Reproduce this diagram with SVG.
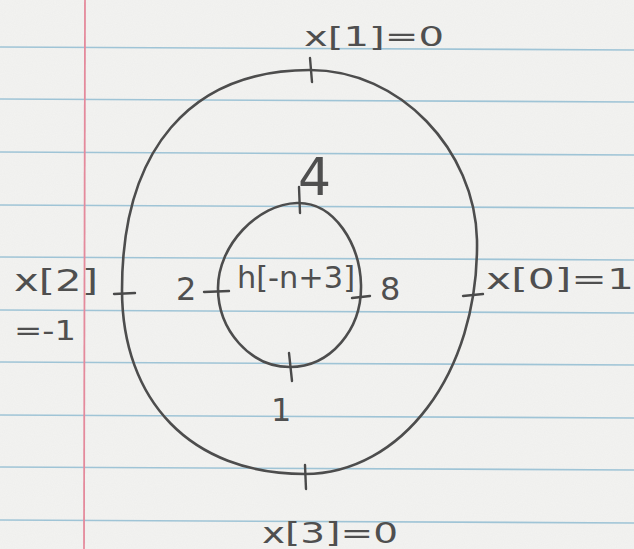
<svg xmlns="http://www.w3.org/2000/svg" width="634" height="549" viewBox="0 0 634 549">
  <defs>
    <style>
      .rule { stroke: #9fc4d6; stroke-width: 1.6; fill: none; }
      .margin { stroke: #e48a9c; stroke-width: 1.8; fill: none; }
      .pencil { stroke: #4d4d4d; stroke-width: 2.6; fill: none; stroke-linecap: round; stroke-linejoin: round; }
      .tick { stroke: #4a4a4a; stroke-width: 2.4; fill: none; stroke-linecap: round; }
      .hand { font-family: "DejaVu Sans", "Liberation Sans", sans-serif; fill: #4f4f4f; font-weight: normal; }
    </style>
    <filter id="grain" x="0" y="0" width="100%" height="100%">
      <feTurbulence type="fractalNoise" baseFrequency="0.9" numOctaves="2" seed="3" result="n"/>
      <feColorMatrix type="matrix" values="0 0 0 0 0.55  0 0 0 0 0.55  0 0 0 0 0.55  0 0 0 0.10 0"/>
    </filter>
  </defs>

  <g id="paper">
    <rect x="0" y="0" width="634" height="549" fill="#f3f3f1"/>
    <rect x="0" y="0" width="634" height="549" filter="url(#grain)"/>
    <line class="rule" x1="0" y1="47" x2="634" y2="50"/>
    <line class="rule" x1="0" y1="99" x2="634" y2="102"/>
    <line class="rule" x1="0" y1="152" x2="634" y2="155"/>
    <line class="rule" x1="0" y1="205" x2="634" y2="208"/>
    <line class="rule" x1="0" y1="257" x2="634" y2="260"/>
    <line class="rule" x1="0" y1="310" x2="634" y2="313"/>
    <line class="rule" x1="0" y1="362" x2="634" y2="365"/>
    <line class="rule" x1="0" y1="415" x2="634" y2="418"/>
    <line class="rule" x1="0" y1="467" x2="634" y2="470"/>
    <line class="rule" x1="0" y1="520" x2="634" y2="523"/>
    <line class="margin" x1="85" y1="0" x2="84" y2="549"/>
  </g>

  <g id="outer-ring">
    <path class="pencil" d="M310,70 C400,70 475,150 477,240 C479,375 400,474 305,474 C190,474 122,400 122,290 C122,150 190,70 310,70 Z"/>
  </g>

  <g id="inner-ring">
    <path class="pencil" d="M297,203 C335,202 360,245 361,285 C362,330 330,367 290,367 C250,367 218,330 218,288 C218,245 258,204 297,203 Z"/>
  </g>

  <g id="connectors">
    <line class="tick" x1="310" y1="58" x2="312" y2="82"/>
    <line class="tick" x1="114" y1="294" x2="135" y2="293"/>
    <line class="tick" x1="463" y1="296" x2="483" y2="294"/>
    <line class="tick" x1="305" y1="465" x2="306" y2="489"/>
    <line class="tick" x1="299" y1="187" x2="300" y2="213"/>
    <line class="tick" x1="204" y1="292" x2="229" y2="291"/>
    <line class="tick" x1="352" y1="298" x2="370" y2="296"/>
    <line class="tick" x1="289" y1="353" x2="292" y2="381"/>
  </g>

  <g id="labels">
    <text class="hand" x="304" y="46" font-size="27" textLength="140" lengthAdjust="spacingAndGlyphs">x[1]=0</text>
    <text class="hand" x="298" y="195" font-size="52">4</text>
    <text class="hand" x="14" y="291" font-size="30" textLength="84" lengthAdjust="spacingAndGlyphs">x[2]</text>
    <text class="hand" x="14" y="340" font-size="26" textLength="62" lengthAdjust="spacingAndGlyphs">=-1</text>
    <text class="hand" x="176" y="300" font-size="32">2</text>
    <text class="hand" x="237" y="288" font-size="30" textLength="118" lengthAdjust="spacingAndGlyphs">h[-n+3]</text>
    <text class="hand" x="380" y="300" font-size="32">8</text>
    <text class="hand" x="486" y="289" font-size="28" textLength="148" lengthAdjust="spacingAndGlyphs">x[0]=1</text>
    <text class="hand" x="271" y="421" font-size="32">1</text>
    <text class="hand" x="262" y="543" font-size="28" textLength="136" lengthAdjust="spacingAndGlyphs">x[3]=0</text>
  </g>
</svg>
